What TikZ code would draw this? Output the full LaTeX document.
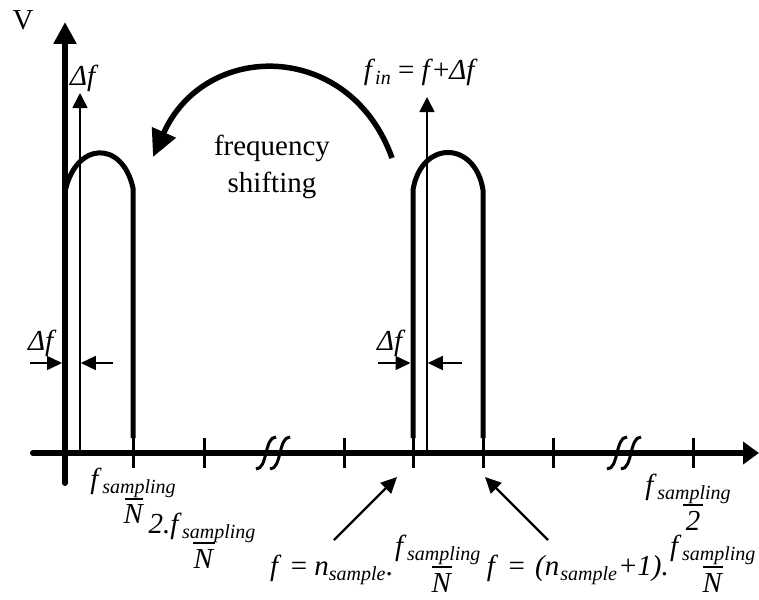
\documentclass[tikz,border=0pt]{standalone}
\usepackage{fontspec}
\setmainfont{Liberation Serif}
\usetikzlibrary{arrows.meta}
\newcommand\lsub[1]{\raisebox{-5pt}{\fontsize{20}{24}\selectfont\itshape #1}}
\newcommand\fsamp{\textit{f}\kern0.5pt\lsub{sampling}}
\begin{document}
\begin{tikzpicture}[x=1pt,y=-1pt,
  every node/.style={inner sep=0pt,font=\fontsize{29}{34}\selectfont},
  axisline/.style={line width=6pt,line cap=round},
  band/.style={line width=5pt,line join=round},
  tickmark/.style={line width=3pt},
  thinline/.style={line width=1.6pt,-{Triangle[length=15pt,width=15pt]}},
  dimarrow/.style={line width=1.6pt,-{Triangle[length=15pt,width=14pt]}},
  pointer/.style={line width=2.2pt,-{Triangle[length=16pt,width=15pt]}},
  bigarrow/.style={line width=5.5pt,-{Triangle[length=27pt,width=25pt]}},
  fracbar/.style={line width=1.4pt},
  brk/.style={line width=3pt}]
\useasboundingbox (0,0) rectangle (759,599);
% axes
\coordinate (hs) at (33,453);
\coordinate (he) at (759,453);
\coordinate (vs) at (65,483);
\coordinate (ve) at (65,22);
\draw[axisline,-{Triangle[length=16pt,width=22pt]}] (hs) -- (he);
\draw[axisline,-{Triangle[length=22pt,width=22pt]}] (vs) -- (ve);
% ticks
\foreach \x in {133,204,344,413,483,553,693}
  \draw[tickmark] (\x,438) -- (\x,468);
% break marks
\foreach \c in {266,280,617,631}
  \draw[brk] (\c-10,469) .. controls (\c+2,469) and (\c-2,437) .. (\c+10,437);
% bands
\draw[band] (65,192) .. controls (75,142) and (122,139) .. (133,188) -- (133,438);
\draw[band] (413,438) -- (413,190) .. controls (421,140) and (475,140) .. (483,190) -- (483,438);
% thin lines
\coordinate (t1s) at (80,453); \coordinate (t1e) at (80,93);
\coordinate (t2s) at (427,453); \coordinate (t2e) at (427,97);
\draw[thinline] (t1s) -- (t1e);
\draw[thinline] (t2s) -- (t2e);
% delta f dimension arrows
\coordinate (da1) at (30,363); \coordinate (da2) at (62,363);
\coordinate (db1) at (113,363); \coordinate (db2) at (80.8,363);
\coordinate (dc1) at (378,363); \coordinate (dc2) at (410.5,363);
\coordinate (dd1) at (462,363); \coordinate (dd2) at (427.8,363);
\draw[dimarrow] (da1) -- (da2);
\draw[dimarrow] (db1) -- (db2);
\draw[dimarrow] (dc1) -- (dc2);
\draw[dimarrow] (dd1) -- (dd2);
% big curved arrow
\coordinate (c1) at (392,158); \coordinate (c2) at (153,157);
\draw[bigarrow] (c1) .. controls (350,40) and (205,40) .. (c2);
% texts
\node[anchor=base] (V) at (23,30) {V};
\node[anchor=base west] (dfA) at (70,85) {\textit{Δf}};
\node[anchor=base east] (fin) at (478,80) {\textit{f}\lsub{in} = \textit{f}+\textit{Δf}};
\node[anchor=base west] (dfB) at (28,350) {\textit{Δf}};
\node[anchor=base west] (dfC) at (377,350) {\textit{Δf}};
\node[anchor=base] (fr1) at (272,155) {frequency};
\node[anchor=base] (fr2) at (272,192) {shifting};
% tick labels
\node[anchor=base] (l1n) at (133,488) {\fsamp};
\draw[fracbar] (125,499) -- (143,499);
\node[anchor=base] (l1d) at (134,523) {\textit{N}};
\node[anchor=base] (l2n) at (202,533) {\textit{2.}\fsamp};
\draw[fracbar] (193,543) -- (215,543);
\node[anchor=base] (l2d) at (204,568) {\textit{N}};
\node[anchor=base] (l3n) at (688,494) {\fsamp};
\draw[fracbar] (683,505) -- (703,505);
\node[anchor=base] (l3d) at (693,530) {\textit{2}};
% bottom equations
\node[anchor=base east] (eq1) at (393,575) {\textit{f}\hspace{2pt} = \textit{n}\lsub{sample}.};
\node[anchor=base west] (eq1n) at (395,555) {\fsamp};
\draw[fracbar] (432,567) -- (452,567);
\node[anchor=base] (eq1d) at (442,592) {\textit{N}};
\node[anchor=base east] (eq2) at (669,575) {\textit{f}\hspace{3pt} = \hspace{3pt}\textit{(n}\lsub{\hspace{1pt}sample\hspace{1pt}}\hspace{2pt}+\hspace{1pt}\textit{1).}};
\node[anchor=base west] (eq2n) at (670,555) {\fsamp};
\draw[fracbar] (703,567) -- (723,567);
\node[anchor=base] (eq2d) at (713,592) {\textit{N}};
% pointers
\coordinate (p1s) at (334,540); \coordinate (p1e) at (397,477);
\coordinate (p2s) at (548,540); \coordinate (p2e) at (485,477);
\draw[pointer] (p1s) -- (p1e);
\draw[pointer] (p2s) -- (p2e);
\end{tikzpicture}
\end{document}
